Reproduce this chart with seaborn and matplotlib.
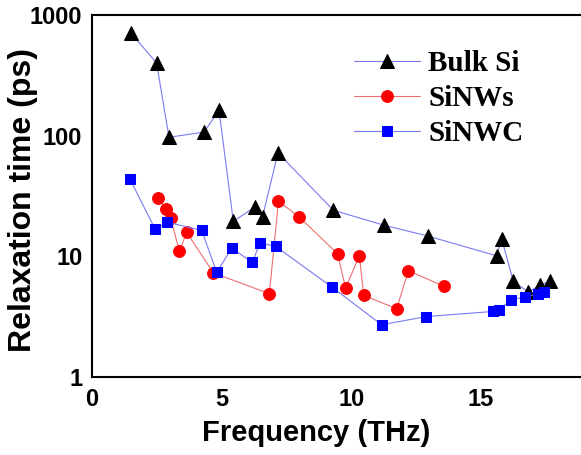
import matplotlib
matplotlib.use("Agg")
import matplotlib.pyplot as plt
import seaborn as sns
import pandas as pd

# ---- data ----
bulk_freq = [1.5, 2.49, 2.97, 4.32, 4.9, 5.45, 6.29, 6.58, 7.17, 9.31, 11.26, 12.97, 15.6, 15.8, 16.25, 16.83, 17.28, 17.66]
bulk_tau = [710, 400, 97, 107, 162, 19.5, 25.7, 21.3, 72, 24.1, 18.1, 14.7, 10.1, 13.9, 6.2, 5.06, 5.8, 6.2]

nw_freq = [2.56, 2.84, 3.03, 3.37, 3.65, 4.68, 6.84, 7.19, 8.0, 9.47, 9.78, 10.31, 10.48, 11.75, 12.2, 13.59]
nw_tau = [30.6, 24.8, 20.9, 11.0, 15.8, 7.3, 4.9, 28.7, 21.1, 10.5, 5.46, 10.1, 4.74, 3.68, 7.6, 5.63]

nwc_freq = [1.47, 2.44, 2.9, 4.23, 4.81, 5.39, 6.18, 6.48, 7.08, 9.27, 11.17, 12.9, 15.45, 15.71, 16.15, 16.7, 17.21, 17.43]
nwc_tau = [43.4, 16.7, 19.2, 16.4, 7.36, 11.7, 8.9, 12.9, 12.1, 5.53, 2.71, 3.17, 3.49, 3.6, 4.37, 4.6, 4.9, 5.02]

x_ticks = [0, 5, 10, 15]
y_ticks = [1, 10, 100, 1000]
y_ticklabels = ["1", "10", "100", "1000"]

sns.set_theme(style="white")
plt.rcParams["font.family"] = ["Liberation Sans", "DejaVu Sans"]
plt.rcParams["text.color"] = "black"
plt.rcParams["axes.labelcolor"] = "black"
plt.rcParams["xtick.color"] = "black"
plt.rcParams["ytick.color"] = "black"

fig = plt.figure(figsize=(5.81, 4.55), dpi=100)
ax_w = 19 * 25.93
ax = fig.add_axes([92 / 581, 78 / 455, ax_w / 581, 362 / 455])

df_bulk = pd.DataFrame({"f": bulk_freq, "t": bulk_tau})
df_nw = pd.DataFrame({"f": nw_freq, "t": nw_tau})
df_nwc = pd.DataFrame({"f": nwc_freq, "t": nwc_tau})

sns.lineplot(data=df_bulk, x="f", y="t", ax=ax, sort=False, color="#7a7af2", lw=0.8,
             marker="^", markersize=10, markerfacecolor="black", markeredgecolor="black",
             label="Bulk Si")
sns.lineplot(data=df_nw, x="f", y="t", ax=ax, sort=False, color="#ee7070", lw=0.8,
             marker="o", markersize=8.5, markerfacecolor="#ff0000", markeredgecolor="#ff0000",
             label="SiNWs")
sns.lineplot(data=df_nwc, x="f", y="t", ax=ax, sort=False, color="#7a7af2", lw=0.8,
             marker="s", markersize=7.5, markerfacecolor="#0000ff", markeredgecolor="#0000ff",
             label="SiNWC")

ax.set_yscale("log")
ax.set_xlim(0, 19)
ax.set_ylim(1, 1000)
ax.set_xticks(x_ticks)
ax.set_xticklabels([str(v) for v in x_ticks])
ax.set_yticks(y_ticks)
ax.set_yticklabels(y_ticklabels)
ax.yaxis.set_minor_locator(matplotlib.ticker.NullLocator())

ax.tick_params(axis="both", direction="in", length=6, width=1.5, color="black",
               labelcolor="black")
ax.tick_params(axis="x", labelsize=17, pad=8)
ax.tick_params(axis="y", labelsize=17, pad=7)
for lab in ax.get_xticklabels() + ax.get_yticklabels():
    lab.set_fontweight("bold")

for s in ax.spines.values():
    s.set_color("black")
    s.set_linewidth(1.5)

ax.set_xlabel("Frequency (THz)", fontsize=21, fontweight="bold", color="black")
ax.set_ylabel("Relaxation time (ps)", fontsize=23, fontweight="bold", color="black")
ax.xaxis.set_label_coords((316 - 92) / ax_w, -0.116)
ax.yaxis.set_label_coords((38 - 92) / ax_w, 0.489)

leg = ax.legend(loc="upper left", bbox_to_anchor=(354 / 581, 1 - 50 / 455),
                bbox_transform=fig.transFigure, frameon=False, borderpad=0,
                borderaxespad=0, handlelength=2.25, handletextpad=0.3,
                labelspacing=0.28,
                prop={"family": "Liberation Serif", "weight": "bold", "size": 21})
for t in leg.get_texts():
    t.set_color("black")

fig.savefig("out.png", dpi=100)
